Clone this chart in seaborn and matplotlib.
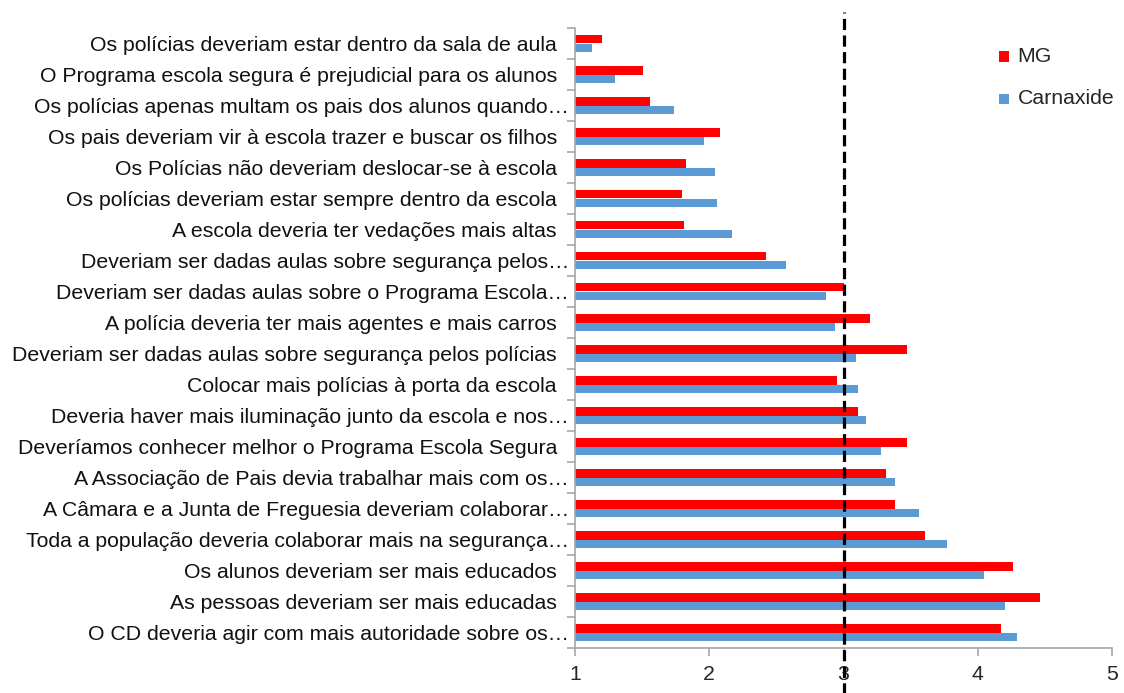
import matplotlib
matplotlib.use("Agg")
import matplotlib.pyplot as plt
import matplotlib.transforms as mtransforms
import seaborn as sns
import pandas as pd
import numpy as np

categories = [
    "Os polícias deveriam estar dentro da sala de aula",
    "O Programa escola segura é prejudicial para os alunos",
    "Os polícias apenas multam os pais dos alunos quando…",
    "Os pais deveriam vir à escola trazer e buscar os filhos",
    "Os Polícias não deveriam deslocar-se à escola",
    "Os polícias deveriam estar sempre dentro da escola",
    "A escola deveria ter vedações mais altas",
    "Deveriam ser dadas aulas sobre segurança pelos…",
    "Deveriam ser dadas aulas sobre o Programa Escola…",
    "A polícia deveria ter mais agentes e mais carros",
    "Deveriam ser dadas aulas sobre segurança pelos polícias",
    "Colocar mais polícias à porta da escola",
    "Deveria haver mais iluminação junto da escola e nos…",
    "Deveríamos conhecer melhor o Programa Escola Segura",
    "A Associação de Pais devia trabalhar mais com os…",
    "A Câmara e a Junta de Freguesia deveriam colaborar…",
    "Toda a população deveria colaborar mais na segurança…",
    "Os alunos deveriam ser mais educados",
    "As pessoas deveriam ser mais educadas",
    "O CD deveria agir com mais autoridade sobre os…",
]
mg = [1.20, 1.51, 1.56, 2.08, 1.83, 1.80, 1.81, 2.42, 3.00, 3.20,
      3.47, 2.95, 3.11, 3.47, 3.32, 3.38, 3.61, 4.26, 4.46, 4.17]
carnaxide = [1.13, 1.30, 1.74, 1.96, 2.04, 2.06, 2.17, 2.57, 2.87, 2.94,
             3.09, 3.11, 3.17, 3.28, 3.38, 3.56, 3.77, 4.05, 4.20, 4.29]
series = ["MG", "Carnaxide"]
colors = {"MG": "#FF0000", "Carnaxide": "#5B9BD5"}
xticks = [1, 2, 3, 4, 5]
ref_value = 3

df = pd.DataFrame({
    "cat": categories * 2,
    "value": mg + carnaxide,
    "series": ["MG"] * len(categories) + ["Carnaxide"] * len(categories),
})

sns.set_theme(style="white")
plt.rcParams["font.family"] = ["Liberation Sans", "DejaVu Sans"]
FS = 15.3

fig = plt.figure(figsize=(11.24, 6.93), dpi=100)
ax = fig.add_axes([575 / 1124, 1 - 648 / 693, (1112 - 575) / 1124, 620 / 693])

sns.barplot(data=df, x="value", y="cat", hue="series", hue_order=series,
            palette=colors, orient="h", width=0.58, ax=ax, legend=True,
            saturation=1, edgecolor="none")

ax.set_xlim(1, 5)
ax.set_ylim(len(categories) - 0.5, -0.5)
ax.set_xlabel("")
ax.set_ylabel("")
ax.set_xticks(xticks)
ax.set_xticklabels([str(t) for t in xticks], fontsize=FS)
ax.tick_params(axis="y", which="major", length=0, pad=13, labelsize=FS)
ax.set_yticks(np.arange(-0.5, len(categories) + 0.5, 1), minor=True)
ax.tick_params(axis="y", which="minor", length=6, color="#A6A6A6", width=1.2, left=True)
ax.tick_params(axis="x", which="major", length=6, color="#A6A6A6", width=1.2, bottom=True, pad=6)
offset = mtransforms.ScaledTranslation(12 / 100, 0, fig.dpi_scale_trans)
for lab in ax.get_yticklabels():
    lab.set_color("#111111")
    if lab.get_text().endswith("…"):
        lab.set_transform(lab.get_transform() + offset)

for s in ["top", "right"]:
    ax.spines[s].set_visible(False)
for s in ["left", "bottom"]:
    ax.spines[s].set_color("#A6A6A6")
    ax.spines[s].set_linewidth(1.2)

ax.axvline(ref_value, ymin=-0.075, ymax=1.026, color="black", lw=2.3,
           dashes=(3.5, 1.7), clip_on=False, zorder=5)

handles, labels = ax.get_legend_handles_labels()
leg = ax.legend(handles, labels, loc="upper left", bbox_to_anchor=(988 / 1124, 1 - 36 / 693),
                bbox_transform=fig.transFigure, frameon=False, fontsize=FS,
                handlelength=0.5, handleheight=0.5, handletextpad=0.4, labelspacing=1.1,
                borderpad=0)
for h in leg.legend_handles:
    h.set_width(7.3)
    h.set_height(7.3)
    h.set_xy((0, 0))

fig.savefig("out.png", dpi=100)
